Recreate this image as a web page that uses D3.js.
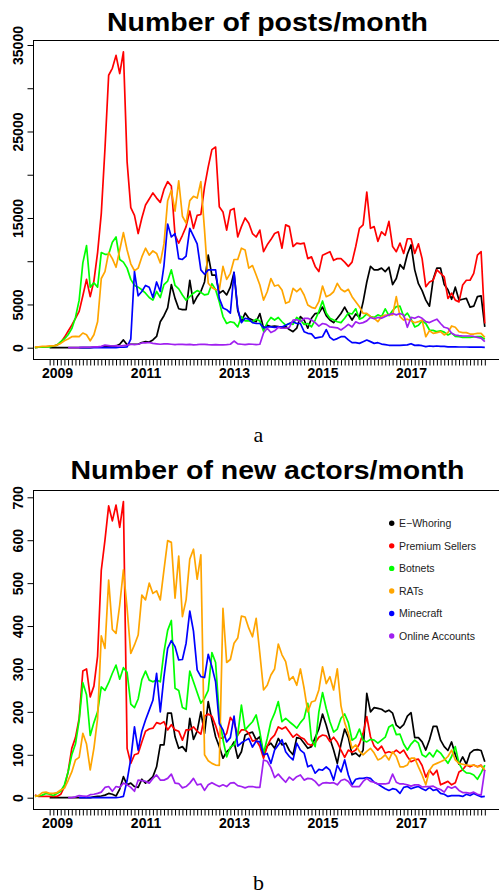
<!DOCTYPE html>
<html>
<head>
<meta charset="utf-8">
<script src="https://cdn.jsdelivr.net/npm/d3@7"></script>
<style>
  body { margin: 0; background: #fff; }
</style>
</head>
<body>
<svg id="chart" width="499" height="894"></svg>
<script>
'use strict'

// months Jul 2008 .. Sep 2018
const months = d3.timeMonth.range(new Date(2008, 6, 1), new Date(2018, 9, 1))
const yearLabels = ['2009', '2011', '2013', '2015', '2017']

const seriesNames = ['E\u2212Whoring', 'Premium Sellers', 'Botnets', 'RATs', 'Minecraft', 'Online Accounts']
const seriesColors = ['#000000', '#ff0000', '#00ff00', '#ffa500', '#0000ff', '#a020f0']

const postTicks = [0, 5000, 10000, 15000, 20000, 25000, 30000, 35000]
const postTickLabels = ['0', '5000', '15000', '25000', '35000']
const actorTicks = [0, 100, 200, 300, 400, 500, 600, 700]
const actorTickLabels = ['0', '100', '200', '300', '400', '500', '600', '700']

// series that start later than Jul 2008 get leading gaps
const lead = (n, arr) => Array(n).fill(null).concat(arr)

// ---- posts per month ----
const postsBlack = lead(4, [
    0, 0, 0, 0, 0, 0, 0, 0, 0, 0,
    0, 0, 50, 50, 100, 100, 150, 150, 200, 400,
    900, 350, 400, 400, 400, 600, 700, 650, 900, 1300,
    3000, 3700, 4600, 7300, 5700, 4500, 4400, 4400, 7800, 5100,
    5900, 6500, 7600, 10700, 8400, 8400, 6300, 6600, 6100, 7000,
    8700, 4300, 3000, 4000, 3400, 3200, 3000, 3950, 2250, 2600,
    2450, 2500, 2450, 2250, 2450, 2100, 1850, 2250, 3600, 3200,
    2250, 3400, 3950, 4000, 4700, 3700, 3200, 2900, 3400, 3950,
    4700, 3900, 3200, 3900, 3500, 5300, 7600, 9400, 9000, 9000,
    9200, 8800, 9300, 7300, 8000, 9600, 9100, 10800, 11900, 9000,
    7400, 6600, 5500, 4800, 7900, 9200, 9200, 7300, 6700, 5600,
    7000, 5500, 5600, 5700, 4700, 4800, 5900, 6000, 2400
])
const postsRed = [
    0, 50, 100, 100, 150, 200, 300, 600, 1200, 1900,
    2600, 3400, 4200, 6000, 7900, 5900, 7700, 11000, 15500, 23000,
    31500, 32300, 33800, 31700, 34200, 21500, 16200, 15300, 13200, 15000,
    16500, 17200, 17900, 17300, 16800, 18300, 19200, 18700, 13000, 12100,
    13000, 14000, 15800, 13800, 15300, 15400, 18600, 20900, 22900, 23200,
    16300, 15700, 13600, 15900, 16100, 12800, 14000, 15000, 14400, 13200,
    12800, 13600, 11100, 11900, 12500, 13200, 13400, 11500, 14200, 14000,
    11700, 12100, 12000, 12100, 10300, 10500, 9400, 8800, 10700, 10900,
    11100, 10100, 10300, 10300, 9900, 9400, 9900, 11700, 13800, 14200,
    18000, 13800, 14000, 12300, 13400, 13000, 14600, 11700, 11100, 12100,
    10900, 12600, 12600, 10900, 12000, 10300, 7050, 7600, 7800, 9000,
    8600, 8200, 5700, 6300, 5500, 5300, 7250, 7800, 7800, 8600,
    10700, 11100, 2800
]
const postsGreen = [
    0, 50, 50, 100, 100, 200, 300, 700, 1000, 1500,
    2200, 3500, 5500, 9800, 11800, 7000, 7500, 7000, 11000, 10800,
    10800, 12200, 12800, 10200, 9900, 9200, 7900, 7200, 7000, 6700,
    6300, 5800, 5500, 6500, 5800, 7300, 7700, 9000, 7200, 6800,
    6100, 5500, 5900, 6300, 6600, 6400, 6100, 6200, 7400, 6700,
    5300, 3600, 2800, 3000, 2900, 2400, 3600, 3100, 3100, 3000,
    3300, 3100, 1900, 2900, 3500, 3200, 3500, 3000, 2600, 2800,
    2700, 3500, 3200, 2700, 2800, 2400, 3200, 4200, 5400, 4000,
    3400, 3200, 3000, 2900, 3400, 4000, 3900, 4500, 3300, 3500,
    3900, 3600, 3500, 3800, 3600, 4500, 3700, 4300, 4750, 4800,
    3600, 4000, 3300, 2400, 2600, 3100, 2800, 2050, 2000, 1850,
    1950, 1800, 1470, 1700, 1300, 1270, 1200, 1200, 1200, 1250,
    1270, 1270, 970
]
const postsOrange = [
    100, 100, 150, 150, 200, 200, 300, 500, 800, 1000,
    1270, 1300, 1270, 1700, 1500, 800, 1500, 3000, 8000, 8800,
    11000, 10300, 9300, 11300, 13300, 11300, 9700, 8900, 9200, 10500,
    11500, 10700, 11200, 10900, 9800, 12000, 17000, 18200, 15800, 19300,
    15200, 14400, 17000, 17500, 17300, 19200, 13600, 7450, 6950, 6700,
    6700, 9400, 7900, 8600, 10200, 10200, 11500, 11300, 9200, 9500,
    8400, 7250, 5500, 6470, 8000, 7130, 7250, 6670, 5130, 5320,
    6860, 6470, 6860, 6090, 4940, 4670, 4550, 5320, 7130, 5900,
    6090, 6470, 7440, 6750, 6470, 6750, 5900, 5320, 4740, 3970,
    3970, 3590, 3400, 3010, 3590, 3780, 3780, 3780, 5900, 3590,
    3200, 3300, 3120, 2890, 3010, 3200, 1270, 1970, 1660, 1740,
    1850, 1470, 1740, 2510, 2360, 1850, 1740, 1740, 1580, 1580,
    1660, 1660, 1200
]
const postsBlue = lead(12, [
    0, 0, 0, 0, 0, 0, 0, 0, 0, 0,
    0, 50, 50, 100, 1000, 8800, 6000, 6500, 7200, 7000,
    5800, 7600, 6500, 9500, 14300, 12800, 13200, 10300, 10200, 10600,
    13800, 12900, 12000, 9000, 8500, 9000, 9000, 9000, 5700, 4600,
    4400, 4000, 8700, 4500, 2900, 3400, 3300, 2900, 2800, 2800,
    2300, 2400, 2400, 2350, 2400, 2400, 2600, 2800, 3000, 2800,
    2800, 1850, 1660, 1600, 1100, 1200, 1270, 2100, 1200, 890,
    1050, 1270, 1270, 900, 580, 580, 500, 700, 890, 700,
    500, 580, 420, 350, 280, 270, 280, 280, 300, 320,
    460, 270, 300, 230, 120, 200, 150, 200, 150, 150,
    100, 100, 100, 80, 80, 80, 60, 60, 60, 60,
    40
])
const postsPurple = lead(9, [
    0, 0, 0, 0, 50, 50, 50, 100, 100, 150,
    300, 250, 200, 250, 200, 250, 300, 400, 350, 400,
    550, 550, 600, 500, 450, 400, 450, 450, 400, 350,
    400, 380, 350, 380, 330, 350, 400, 380, 350, 330,
    350, 330, 330, 360, 400, 770, 450, 400, 350, 420,
    400, 350, 400, 1700, 2250, 1750, 1950, 2350, 2250, 2250,
    2350, 3200, 3250, 3000, 3400, 3400, 3200, 2900, 2500, 2800,
    2700, 2400, 2350, 2300, 2050, 2350, 2700, 2400, 3000, 2800,
    2900, 3100, 3500, 3350, 3500, 3400, 3600, 3800, 3950, 3800,
    3950, 3780, 2360, 3500, 3400, 3600, 3400, 3010, 2900, 3120,
    3300, 2800, 2360, 2250, 1660, 1470, 1400, 1350, 1350, 1350,
    1300, 1200, 1100, 700
])

// ---- new actors per month ----
const actorsBlack = lead(4, [
    0, 0, 0, 0, 0, 0, 0, 0, 0, 0,
    0, 0, 2, 3, 4, 6, 10, 8, 4, 20,
    49, 30, 34, 26, 24, 43, 34, 41, 49, 72,
    123, 123, 197, 197, 142, 115, 119, 108, 185, 136,
    155, 200, 150, 224, 181, 142, 119, 92, 107, 115,
    130, 92, 107, 146, 150, 153, 135, 142, 100, 120,
    127, 115, 138, 123, 127, 110, 100, 140, 138, 127,
    115, 119, 140, 160, 195, 169, 138, 111, 80, 125,
    160, 140, 100, 104, 96, 111, 243, 200, 210, 208,
    206, 200, 204, 197, 169, 162, 170, 190, 198, 140,
    140, 130, 111, 135, 166, 166, 134, 119, 110, 130,
    100, 78, 95, 78, 104, 111, 112, 110, 84
])
const actorsRed = [
    6, 3, 3, 3, 3, 3, 3, 8, 25, 60,
    115, 140, 185, 295, 300, 235, 260, 330, 530, 600,
    680, 645, 682, 630, 690, 115, 80, 100, 103, 130,
    155, 160, 162, 175, 172, 177, 158, 170, 158, 155,
    134, 158, 158, 165, 155, 148, 190, 195, 190, 168,
    140, 138, 150, 187, 175, 146, 158, 158, 150, 132,
    134, 120, 92, 120, 137, 146, 165, 160, 165, 153,
    141, 148, 141, 137, 125, 122, 128, 141, 146, 144,
    131, 141, 129, 111, 94, 111, 106, 111, 125, 150,
    189, 142, 120, 111, 120, 104, 107, 104, 111, 104,
    111, 96, 84, 88, 90, 75, 48, 64, 53, 64,
    30, 34, 38, 30, 35, 60, 65, 76, 72, 76,
    72, 76, 62
]
const actorsGreen = [
    3, 5, 6, 10, 8, 5, 10, 15, 30, 60,
    100, 125, 180, 268, 240, 145, 175, 200, 258, 250,
    268, 290, 309, 276, 303, 292, 218, 210, 230, 275,
    295, 274, 270, 274, 270, 340, 390, 413, 255, 250,
    210, 206, 295, 270, 245, 220, 232, 250, 338, 315,
    190, 135, 95, 118, 123, 146, 216, 158, 168, 177,
    193, 153, 103, 138, 177, 197, 224, 177, 185, 177,
    170, 162, 175, 185, 220, 135, 119, 200, 245, 208,
    177, 153, 160, 185, 195, 175, 134, 140, 160, 134,
    130, 136, 134, 127, 134, 141, 165, 170, 147, 148,
    125, 111, 125, 134, 127, 100, 95, 105, 95, 111,
    104, 92, 80, 96, 119, 80, 65, 58, 57, 53,
    43, 58, 76
]
const actorsOrange = [
    3, 5, 12, 13, 10, 10, 12, 18, 22, 40,
    60, 88, 94, 150, 125, 65, 115, 185, 377, 348,
    507, 392, 383, 449, 531, 441, 336, 356, 379, 472,
    461, 500, 476, 482, 461, 531, 599, 595, 465, 563,
    422, 461, 556, 579, 509, 566, 100, 86, 80, 76,
    75, 441, 315, 322, 360, 372, 423, 421, 395, 375,
    418, 336, 251, 262, 286, 300, 358, 333, 317, 274,
    282, 262, 300, 255, 200, 223, 226, 251, 305, 266,
    282, 251, 300, 214, 175, 150, 115, 123, 108, 100,
    108, 115, 104, 88, 92, 100, 88, 107, 96, 72,
    72, 76, 92, 92, 72, 53, 30, 64, 76, 80,
    84, 88, 96, 111, 88, 80, 78, 76, 75, 76,
    72, 74, 65
]
const actorsBlue = lead(12, [
    0, 0, 0, 0, 0, 0, 0, 0, 0, 0,
    0, 1, 3, 40, 90, 165, 111, 155, 181, 204,
    227, 290, 200, 282, 348, 366, 352, 321, 322, 360,
    435, 388, 298, 282, 280, 334, 305, 270, 173, 158,
    130, 140, 190, 120, 128, 133, 138, 118, 132, 130,
    100, 103, 80, 111, 123, 135, 107, 96, 88, 127,
    111, 104, 72, 76, 57, 66, 64, 72, 64, 41,
    76, 60, 88, 53, 30, 43, 45, 45, 47, 45,
    36, 32, 26, 21, 17, 21, 19, 10, 24, 26,
    21, 24, 26, 21, 17, 24, 17, 19, 10, 8,
    3, 5, 5, 5, 3, 8, 5, 10, 6, 2,
    3
])
const actorsPurple = lead(9, [
    0, 0, 2, 5, 4, 3, 7, 8, 10, 13,
    24, 26, 15, 26, 24, 34, 30, 24, 15, 41,
    40, 38, 34, 45, 53, 41, 41, 45, 55, 34,
    33, 23, 26, 34, 45, 30, 32, 17, 30, 35,
    30, 26, 30, 26, 34, 35, 28, 26, 23, 26,
    26, 24, 24, 88, 85, 70, 47, 55, 45, 36,
    48, 41, 49, 53, 41, 45, 44, 38, 28, 34,
    35, 34, 35, 30, 40, 43, 38, 26, 26, 26,
    38, 45, 38, 36, 32, 32, 32, 34, 55, 36,
    32, 32, 30, 27, 30, 30, 25, 26, 26, 27,
    22, 19, 13, 26, 22, 26, 17, 12, 12, 10,
    13, 8, 6, 65
])

const sans = '"Liberation Sans", Arial, Helvetica, sans-serif'
const svg = d3.select('#chart')

const x = d3.scaleLinear().domain([0, months.length - 1]).range([34.9, 484.8])
const firstTick = 4

const panels = [
    {
        title: 'Number of posts/month', titleY: 30.7, titleLen: 321,
        caption: 'a', captionY: 441.5,
        top: 40.5, bottom: 359.5,
        y: d3.scaleLinear().domain([0, 35000]).range([347.7, 45]),
        ticks: postTicks, tickLabels: postTickLabels,
        series: [postsBlack, postsRed, postsGreen, postsOrange, postsBlue, postsPurple],
        legend: false
    },
    {
        title: 'Number of new actors/month', titleY: 479.3, titleLen: 394,
        caption: 'b', captionY: 889.5,
        top: 490.5, bottom: 809.5,
        y: d3.scaleLinear().domain([0, 700]).range([797.7, 497.3]),
        ticks: actorTicks, tickLabels: actorTickLabels,
        series: [actorsBlack, actorsRed, actorsGreen, actorsOrange, actorsBlue, actorsPurple],
        legend: true
    }
]

panels.forEach(p => {
    const g = svg.append('g')

    g.append('text')
        .attr('x', 267.5)
        .attr('y', p.titleY)
        .attr('text-anchor', 'middle')
        .attr('font-family', sans)
        .attr('font-weight', 'bold')
        .attr('font-size', 25)
        .attr('textLength', p.titleLen)
        .attr('lengthAdjust', 'spacingAndGlyphs')
        .text(p.title)

    const line = d3.line()
        .defined(d => d != null)
        .x((d, i) => x(i))
        .y(d => p.y(d))

    p.series.forEach((s, k) => {
        g.append('path')
            .datum(s)
            .attr('fill', 'none')
            .attr('stroke', seriesColors[k])
            .attr('stroke-width', 1.7)
            .attr('stroke-linejoin', 'round')
            .attr('d', line)
    })

    // box (right side runs off the page)
    g.append('rect')
        .attr('x', 33.5)
        .attr('y', p.top)
        .attr('width', 480)
        .attr('height', p.bottom - p.top)
        .attr('fill', 'none')
        .attr('stroke', '#000')
        .attr('stroke-width', 1)

    const yAxis = g.append('g')
        .attr('transform', 'translate(33.5,0)')
        .call(d3.axisLeft(p.y)
            .tickValues(p.ticks)
            .tickSize(6)
            .tickFormat(d => p.tickLabels.includes(String(d)) ? String(d) : ''))
    yAxis.select('.domain').remove()
    yAxis.selectAll('text')
        .attr('x', null).attr('dy', null)
        .attr('text-anchor', 'middle')
        .attr('transform', 'translate(-11,0) rotate(-90)')
        .attr('font-family', sans)
        .attr('font-weight', 'bold')
        .attr('font-size', 14)
        .attr('fill', '#000')

    const xAxis = g.append('g')
        .attr('transform', `translate(0,${p.bottom})`)
        .call(d3.axisBottom(x)
            .tickValues(d3.range(firstTick, months.length))
            .tickSize(6)
            .tickFormat(i => {
                const m = months[i]
                const yr = String(m.getFullYear())
                return m.getMonth() === 0 && yearLabels.includes(yr) ? yr : ''
            }))
    xAxis.select('.domain').remove()
    xAxis.selectAll('text')
        .attr('y', 8.5)
        .attr('font-family', sans)
        .attr('font-weight', 'bold')
        .attr('font-size', 14)
        .attr('fill', '#000')

    g.append('text')
        .attr('x', 258.5)
        .attr('y', p.captionY)
        .attr('text-anchor', 'middle')
        .attr('font-family', '"Liberation Serif", "Times New Roman", serif')
        .attr('font-size', 22)
        .text(p.caption)

    if (p.legend) {
        const leg = g.append('g').attr('transform', 'translate(391.7,523.3)')
        seriesNames.forEach((name, k) => {
            const row = leg.append('g').attr('transform', `translate(0,${k * 22.55})`)
            row.append('circle')
                .attr('r', 2.7)
                .attr('fill', seriesColors[k])
            row.append('text')
                .attr('x', 7.3)
                .attr('y', 3.8)
                .attr('font-family', sans)
                .attr('font-size', 10.5)
                .attr('fill', '#222')
                .text(name)
        })
    }
})
</script>
</body>
</html>
